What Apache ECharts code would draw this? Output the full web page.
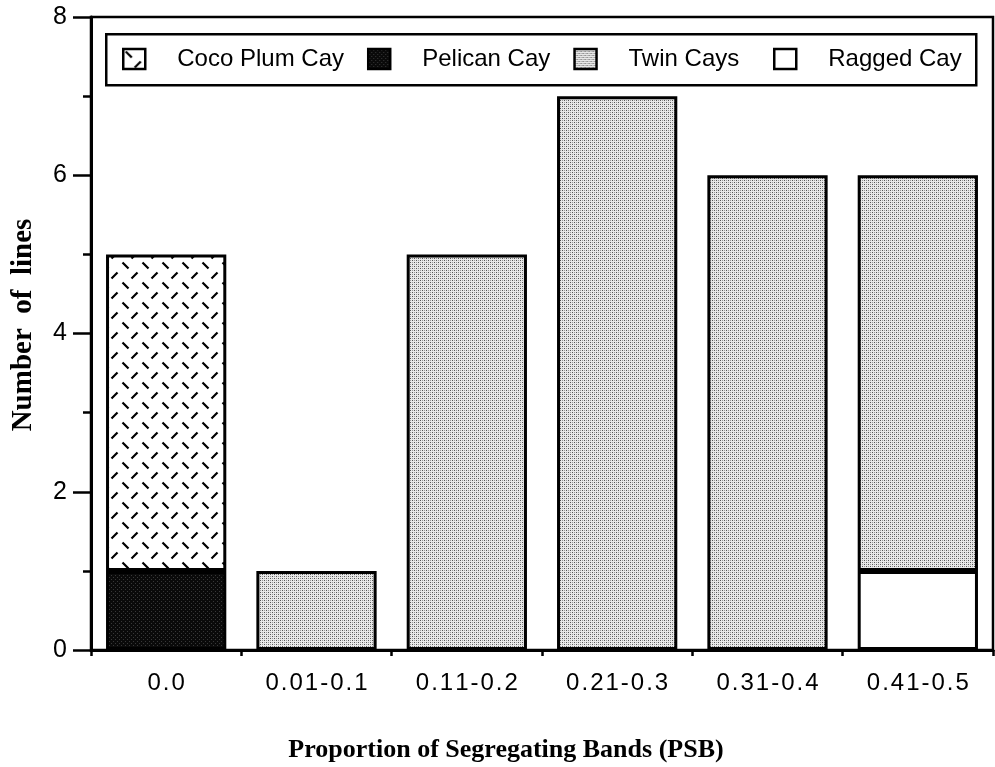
<!DOCTYPE html>
<html>
<head>
<meta charset="utf-8">
<script src="https://cdn.jsdelivr.net/npm/echarts@6/dist/echarts.min.js"></script>
<style>
  html, body { margin: 0; padding: 0; background: #fff; }
  #chart { width: 995px; height: 767px; }
</style>
</head>
<body>
<div id="chart"></div>
<script>
// PSB classes and the number of lines per island group
const categories = ['0.0', '0.01-0.1', '0.11-0.2', '0.21-0.3', '0.31-0.4', '0.41-0.5'];
const pelicanCay = [1, null, null, null, null, null];
const raggedCay = [null, null, null, null, null, 1];
const twinCays = [null, 1, 5, 7, 6, 5];
const cocoPlumCay = [4, null, null, null, null, null];
const yTicks = [0, 2, 4, 6, 8];

// Small canvas tiles used as fill patterns
function tile(w, h, draw) {
  const c = document.createElement('canvas');
  c.width = w; c.height = h;
  draw(c.getContext('2d'));
  return { image: c, repeat: 'repeat' };
}
const stipple = tile(4, 4, g => {
  g.fillStyle = '#e8e8e8'; g.fillRect(0, 0, 4, 4);
  g.fillStyle = '#555'; g.fillRect(0, 0, 1, 1); g.fillRect(2, 2, 1, 1);
  g.fillStyle = '#999'; g.fillRect(2, 0, 1, 1); g.fillRect(0, 2, 1, 1);
});
const darkDots = tile(4, 4, g => {
  g.fillStyle = '#0a0a0a'; g.fillRect(0, 0, 4, 4);
  g.fillStyle = '#383838'; g.fillRect(1, 1, 1, 1); g.fillRect(3, 3, 1, 1);
});
const dashes = tile(20, 20, g => {
  g.fillStyle = '#fff'; g.fillRect(0, 0, 20, 20);
  g.strokeStyle = '#000'; g.lineWidth = 2.2; g.lineCap = 'butt';
  g.beginPath();
  g.moveTo(2.5, 2.5); g.lineTo(8.5, 8.5);
  g.moveTo(11.5, 18.5); g.lineTo(17.5, 12.5);
  g.stroke();
});

// Spread characters a little, as in the printed tick labels
const spread = s => s.split('').join('\u200A');

const border = { borderColor: '#000', borderWidth: 3 };
function barSeries(name, data, fill) {
  return {
    name, type: 'bar', stack: 'total', data,
    barCategoryGap: '20%',
    itemStyle: Object.assign({ color: fill }, border),
    emphasis: { disabled: true }
  };
}

const legendText = {
  fontFamily: 'Liberation Sans, Arial, sans-serif',
  fontSize: 24, color: '#000',
  padding: [0, 0, 0, 27]
};
// Shared look of the two legend rows (the framed key is split in two parts)
function legendPart(names, left) {
  return {
    data: names,
    left, top: 47,
    padding: 0,
    itemGap: 23,
    itemWidth: 22, itemHeight: 20,
    selectedMode: false,
    icon: 'rect',
    z: 10,
    itemStyle: { borderColor: '#000', borderWidth: 2.5 },
    textStyle: legendText
  };
}

const chart = echarts.init(document.getElementById('chart'), null, { renderer: 'canvas' });
chart.setOption({
  animation: false,
  grid: {
    left: 91, right: 2, top: 17, bottom: 117,
    show: true, borderColor: '#000', borderWidth: 2.5
  },
  legend: [
    legendPart(['Coco Plum Cay', 'Pelican Cay', 'Twin Cays'], 122),
    legendPart(['Ragged Cay'], 773)
  ],
  xAxis: {
    type: 'category',
    data: categories,
    axisLine: { lineStyle: { color: '#000', width: 3 } },
    axisTick: { show: true, length: 6, lineStyle: { color: '#000', width: 2.5 } },
    axisLabel: {
      margin: 21,
      fontFamily: 'Liberation Sans, Arial, sans-serif',
      fontSize: 24, color: '#000',
      formatter: v => spread(v)
    }
  },
  yAxis: {
    type: 'value',
    min: yTicks[0], max: yTicks[yTicks.length - 1], interval: 2,
    splitLine: { show: false },
    axisLine: { show: true, lineStyle: { color: '#000', width: 3 } },
    axisTick: { show: true, length: 18, lineStyle: { color: '#000', width: 2.5 } },
    minorTick: { show: true, splitNumber: 2, length: 8, lineStyle: { color: '#000', width: 2.5 } },
    axisLabel: {
      margin: 24,
      fontFamily: 'Liberation Sans, Arial, sans-serif',
      fontSize: 25, color: '#000'
    }
  },
  graphic: [
    {
      type: 'rect', left: 105, top: 33, z: 3,
      shape: { width: 870, height: 51 },
      style: { fill: '#fff', stroke: '#000', lineWidth: 2.5 }
    },
    {
      type: 'text', x: 24, y: 325, rotation: Math.PI / 2,
      style: {
        text: 'Number  of  lines',
        font: 'bold 29px "Liberation Serif", "Times New Roman", serif',
        fill: '#000', align: 'center', verticalAlign: 'middle'
      }
    },
    {
      type: 'text', x: 506, y: 750,
      style: {
        text: 'Proportion of Segregating Bands (PSB)',
        font: 'bold 26px "Liberation Serif", "Times New Roman", serif',
        fill: '#000', align: 'center', verticalAlign: 'middle'
      }
    }
  ],
  series: [
    barSeries('Pelican Cay', pelicanCay, darkDots),
    barSeries('Ragged Cay', raggedCay, '#fff'),
    barSeries('Twin Cays', twinCays, stipple),
    barSeries('Coco Plum Cay', cocoPlumCay, dashes)
  ]
});
</script>
</body>
</html>
